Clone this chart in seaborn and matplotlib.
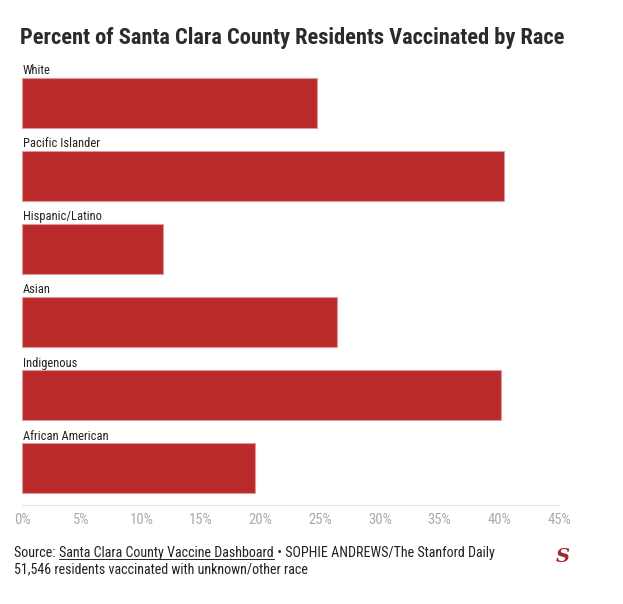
import matplotlib
matplotlib.use('Agg')
import matplotlib.pyplot as plt
import seaborn as sns
import pandas as pd
from matplotlib import font_manager

races = ['White', 'Pacific Islander', 'Hispanic/Latino', 'Asian', 'Indigenous', 'African American']
pct_vaccinated = [24.7, 40.4, 11.8, 26.4, 40.1, 19.5]
x_ticks = [0, 5, 10, 15, 20, 25, 30, 35, 40, 45]

sns.set_style('white')
names = {f.name for f in font_manager.fontManager.ttflist}
cond = [n for n in ['Roboto Condensed', 'Liberation Sans Narrow'] if n in names]
plt.rcParams['font.family'] = cond + ['Roboto', 'DejaVu Sans']

df = pd.DataFrame({'race': races, 'pct': pct_vaccinated})

fig = plt.figure(figsize=(6.23, 6.04), dpi=100)
ax = fig.add_axes([22 / 623, 1 - 505 / 604, (559 - 22) / 623, (505 - 66) / 604])

sns.barplot(data=df, x='pct', y='race', color='#b92a2b', saturation=1,
            width=0.685, edgecolor='#dc9a9a', linewidth=0.8, ax=ax)

ax.set_xlim(0, 45)
ax.set_ylim(5.5, -0.5)
ax.set_yticks([])
ax.set_ylabel('')
ax.set_xlabel('')
ax.set_xticks(x_ticks)
ax.set_xticklabels([f'{t}%' for t in x_ticks], color='#aaaaaa', fontsize=10.5)
ax.tick_params(axis='x', length=3, width=0.8, color='#e3e3e3', pad=3)
for s in ['top', 'right', 'left']:
    ax.spines[s].set_visible(False)
ax.spines['bottom'].set_color('#e3e3e3')

for i, r in enumerate(races):
    ax.text(0.05, i - 0.35, r, ha='left', va='bottom', fontsize=9, color='#222222')

fig.text(20 / 623, 1 - 38 / 604, 'Percent of Santa Clara County Residents Vaccinated by Race',
         fontsize=16.2, fontweight='bold', color='#2b2b2b', va='center', ha='left')

fs = 10.1
y1 = 1 - 553 / 604
t1 = fig.text(14 / 623, y1, 'Source: ', fontsize=fs, color='#222222', va='center')
fig.canvas.draw()
r = fig.canvas.get_renderer()
bb = t1.get_window_extent(r)
x = bb.x1 / fig.bbox.width
t2 = fig.text(x, y1, 'Santa Clara County Vaccine Dashboard', fontsize=fs, color='#222222', va='center')
bb2 = t2.get_window_extent(r)
fig.lines.append(plt.Line2D([bb2.x0 / fig.bbox.width, bb2.x1 / fig.bbox.width],
                            [bb2.y0 / fig.bbox.height + 0.001] * 2, transform=fig.transFigure,
                            color='#222222', linewidth=0.7))
fig.text(bb2.x1 / fig.bbox.width, y1, ' \u2022 SOPHIE ANDREWS/The Stanford Daily',
         fontsize=fs, color='#222222', va='center')
fig.text(14 / 623, 1 - 569 / 604, '51,546 residents vaccinated with unknown/other race',
         fontsize=fs, color='#222222', va='center')
fig.text(563 / 623, 1 - 557 / 604, 'S', fontsize=14, color='#a3282c', family='DejaVu Serif',
         fontweight='bold', style='italic', ha='center', va='center')

fig.savefig('out.png', dpi=100)
